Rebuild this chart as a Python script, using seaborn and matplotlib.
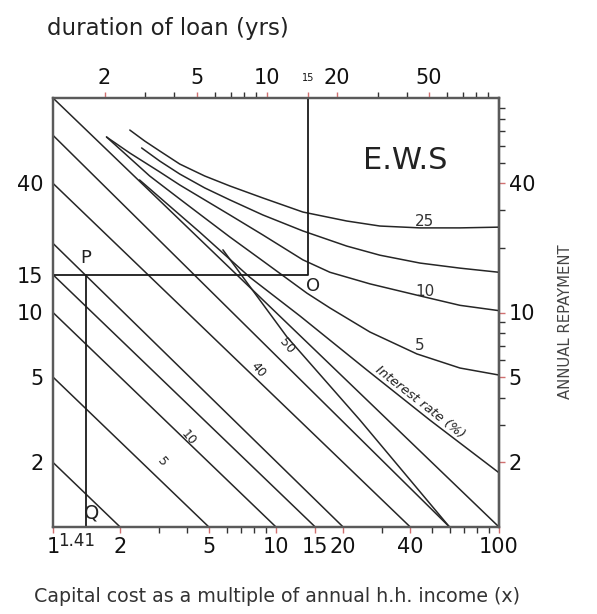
import numpy as np
import pandas as pd
import matplotlib
matplotlib.use('Agg')
import matplotlib.pyplot as plt
import seaborn as sns
from matplotlib.ticker import FixedLocator, FixedFormatter, LogLocator, NullFormatter

# ---------------------------------------------
# data
# ---------------------------------------------
cost_ticks = [1, 2, 5, 10, 15, 20, 40, 100]
repay_ticks_left = [2, 5, 10, 15, 40]
repay_ticks_right = [2, 5, 10, 40]
dur_ticks = [2, 5, 10, 15, 20, 50]

# straight lines: repayment where cost = 1, cost where repayment = 1
diag_left = [2, 5, 10, 15, 21, 40, 67, 100]
diag_bottom = [2, 5, 10, 15, 20, 40, 60, 100]

# line that starts inside the chart (labelled 50)
mid_cost = [5.78, 11.2, 23.8, 60]
mid_repay = [19.6, 7.69, 3.15, 1.0]

# E.W.S curves: duration (yrs) vs annual repayment
ews_25_dur = [2.57, 2.98, 3.46, 4.22, 5.40, 6.93, 9.61, 14.3, 22.1, 30.7, 45.7, 67.9, 100]
ews_25_rep = [70.9, 63.0, 56.6, 49.2, 43.3, 38.9, 34.2, 29.4, 26.7, 25.3, 24.8, 24.8, 25.0]
ews_15_dur = [2.89, 3.46, 4.22, 5.40, 6.93, 9.61, 14.3, 22.1, 30.7, 45.7, 67.9, 100]
ews_15_rep = [58.5, 50.8, 44.2, 38.1, 33.5, 28.5, 24.0, 20.4, 18.5, 17.0, 16.1, 15.4]
ews_10_dur = [2.04, 2.57, 3.46, 4.22, 5.40, 6.93, 9.61, 14.3, 18.7, 27.8, 48.0, 67.9, 100]
ews_10_rep = [65.8, 55.4, 45.2, 39.3, 33.5, 28.5, 23.0, 17.6, 15.4, 13.6, 11.8, 10.8, 10.2]
ews_5_dur = [2.04, 2.57, 3.13, 4.22, 5.40, 6.93, 9.61, 14.9, 18.7, 27.8, 44.3, 67.9, 100]
ews_5_rep = [65.8, 52.5, 43.3, 33.8, 27.6, 22.5, 17.4, 12.3, 10.5, 8.11, 6.41, 5.51, 5.11]
ews_low_dur = [2.83, 5.14, 8.45, 13.9, 27.0, 50.4, 100]
ews_low_rep = [41.5, 23.7, 14.6, 9.63, 5.39, 3.15, 1.79]

# worked example P -> O, P -> Q
p_repay = 15
q_cost = 1.41
o_duration = 15

# ---------------------------------------------
sns.set_theme(style='white')
plt.rcParams['font.family'] = ['DejaVu Sans']

fig = plt.figure(figsize=(5.97, 6.14), dpi=100)
ax = fig.add_axes([53/597, 87/614, 446/597, 429/614])
ax_top = ax.twiny()

line_kw = dict(color='#262626', linewidth=1.1, sort=False, estimator=None, legend=False)

for yl, xb in zip(diag_left, diag_bottom):
    sns.lineplot(x=[1, xb], y=[yl, 1], ax=ax, **line_kw)
sns.lineplot(x=mid_cost, y=mid_repay, ax=ax, **line_kw)

for d, r in [(ews_25_dur, ews_25_rep), (ews_15_dur, ews_15_rep), (ews_10_dur, ews_10_rep),
             (ews_5_dur, ews_5_rep), (ews_low_dur, ews_low_rep)]:
    sns.lineplot(x=d, y=r, ax=ax_top, **line_kw)

# P-O box and P-Q drop
box_kw = dict(color='#1a1a1a', linewidth=1.3, sort=False, estimator=None, legend=False)
sns.lineplot(x=[1.2, o_duration, o_duration], y=[p_repay, p_repay, 100], ax=ax_top, **box_kw)
sns.lineplot(x=[q_cost, q_cost], y=[1, p_repay], ax=ax, **box_kw)

# scales
for a in (ax, ax_top):
    a.set_xscale('log')
    a.set_yscale('log')
ax.set_xlim(1, 100)
ax_top.set_xlim(1.2, 100)
ax.set_ylim(1, 100)
ax_top.set_ylim(1, 100)

# bottom axis
ax.xaxis.set_major_locator(FixedLocator(cost_ticks))
ax.xaxis.set_major_formatter(FixedFormatter([str(t) for t in cost_ticks]))
ax.xaxis.set_minor_locator(LogLocator(base=10, subs=np.arange(2, 10)))
ax.xaxis.set_minor_formatter(NullFormatter())
# left axis
ax.yaxis.set_major_locator(FixedLocator(repay_ticks_left))
ax.yaxis.set_major_formatter(FixedFormatter([str(t) for t in repay_ticks_left]))
ax.yaxis.set_minor_locator(LogLocator(base=10, subs=np.arange(2, 10)))
ax.yaxis.set_minor_formatter(NullFormatter())
# top axis
ax_top.xaxis.set_major_locator(FixedLocator(dur_ticks))
ax_top.xaxis.set_major_formatter(FixedFormatter([str(t) for t in dur_ticks]))
ax_top.xaxis.set_minor_locator(LogLocator(base=10, subs=np.arange(2, 10)))
ax_top.xaxis.set_minor_formatter(NullFormatter())
ax_top.yaxis.set_visible(False)
# right axis
ax_r = ax.secondary_yaxis('right')
ax_r.yaxis.set_major_locator(FixedLocator(repay_ticks_right))
ax_r.yaxis.set_major_formatter(FixedFormatter([str(t) for t in repay_ticks_right]))
ax_r.yaxis.set_minor_locator(LogLocator(base=10, subs=np.arange(2, 10)))
ax_r.yaxis.set_minor_formatter(NullFormatter())

for a in (ax, ax_top, ax_r):
    a.tick_params(which='major', direction='out', length=4, width=1.0, color='#d07070',
                  labelsize=15, labelcolor='#111111', pad=3)
    a.tick_params(which='minor', direction='out', length=4, width=1.0, color='#333333')
    for s in a.spines.values():
        s.set_color('#5a5a5a')
        s.set_linewidth(1.6)

for lbl in ax_top.get_xticklabels():
    if lbl.get_text() == '15':
        lbl.set_fontsize(7)
        lbl.set_y(1.012)

# labels
fig.text(47/597, 1 - 28/614, 'duration of loan (yrs)', ha='left', va='center',
         fontsize=16.5, color='#222222')
fig.text(277/597, 1 - 597/614, 'Capital cost as a multiple of annual h.h. income (x)',
         ha='center', va='center', fontsize=13.7, color='#333333')
fig.text(566/597, 1 - 322/614, 'ANNUAL REPAYMENT', rotation=90, ha='center', va='center',
         fontsize=10.7, color='#444444')

T = ax.transAxes
ax.text(0.789, 0.855, 'E.W.S', transform=T, ha='center', va='center', fontsize=22, color='#222222')
ax.text(0.834, 0.711, '25', transform=T, ha='center', va='center', fontsize=11, color='#333333')
ax.text(0.834, 0.548, '10', transform=T, ha='center', va='center', fontsize=11, color='#333333')
ax.text(0.823, 0.424, '5', transform=T, ha='center', va='center', fontsize=11, color='#333333')
ax.text(0.583, 0.562, 'O', transform=T, ha='center', va='center', fontsize=13, color='#222222')
ax.text(0.074, 0.627, 'P', transform=T, ha='center', va='center', fontsize=13, color='#222222')
ax.text(0.087, 0.033, 'Q', transform=T, ha='center', va='center', fontsize=14, color='#222222')
ax.text(0.052, -0.033, '1.41', transform=T, ha='center', va='center', fontsize=12,
        color='#222222', clip_on=False)

for s, fx, fy in [('5', 0.244, 0.152), ('10', 0.303, 0.207), ('40', 0.460, 0.366), ('50', 0.525, 0.422)]:
    ax.text(fx, fy, s, transform=T, ha='center', va='center', fontsize=9, rotation=-50,
            color='#222222')
ax.text(0.823, 0.291, 'Interest rate (%)', transform=T, ha='center', va='center', fontsize=9.5,
        rotation=-38, style='italic', color='#222222')

plt.savefig('out.png', dpi=100)
